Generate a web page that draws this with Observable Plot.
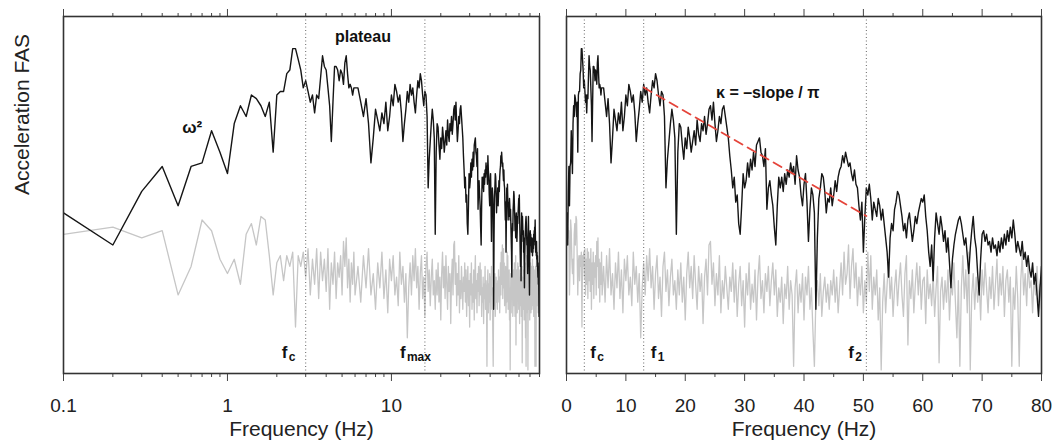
<!DOCTYPE html>
<html>
<head>
<meta charset="utf-8">
<script src="https://cdn.jsdelivr.net/npm/d3@7"></script>
<script src="https://cdn.jsdelivr.net/npm/@observablehq/plot@0.6"></script>
<style>
  html, body { margin: 0; padding: 0; background: #fff; }
  #wrap { position: absolute; left: 0; top: 0; width: 1056px; height: 441px; display: flex; }
</style>
</head>
<body>
<div id="wrap"></div>
<script>
// ---- Frequency sampling grid (Hz) ----
const lowFreq = d3.range(1, 61).map(i => +(i / 10).toFixed(1));        // 0.1 .. 6.0
const highFreq = d3.range(1, 297).map(i => 6 + i * 0.25);              // 6.25 .. 80

// ---- Signal FAS (relative log amplitude, 0 = bottom of frame, 100 = top) ----
const signalLow = [45,36,51,58,47,58,59,68,62,56, 70,75,72,78,77,75,72,76,62,78,
  79,79,84,85,91,91,88,85,80,82, 79,76,78,73,78,77,83,89,86,85,
  80,75,65,76,86,86,85,82,85,84, 81,87,89,84,80,81,80,78,80,80];
const signalHigh = [
  80,76,72,77, 70,59,66,74, 71,68,73,70, 76,68,72,78, 75,81,79,76, 78,73,65,70,
  74,79,76,81, 78,80,76,73, 78,82,80,84, 82,78,75,79, 78,72,52,60, 65,70,74,71,
  66,39,62,70, 69,64,60,66, 63,69,66,62, 65,68,64,71, 67,65,70,68, 72,67,70,74,
  75,71,76,70, 65,68,72,70, 74,75,72,69, 66,61,57,52, 55,48,50,42, 39,47,56,52,
  54,59,55,60, 57,62,58,64, 65,66,62,61, 58,63,46,52, 54,50,47,41, 36,47,55,52,
  55,51,56,53, 57,55,59,56, 58,53,61,57, 55,50,47,53, 56,48,37,46, 52,50,45,18,
  38,49,52,56, 55,51,45,49, 48,52,47,50, 54,51,55,57, 58,61,59,62, 60,58,59,56,
  54,57,53,52, 47,43,48,34, 44,52,50,53, 49,43,48,46, 44,49,47,43, 46,42,38,34,
  27,38,42,40, 46,48,51,50, 47,44,40,42, 38,43,45,41, 37,40,44,42, 45,47,49,48,
  50,44,40,34, 30,36,26,38, 45,42,39,44, 41,37,40,34, 38,31,24,32, 36,39,41,43,
  44,42,39,36, 38,33,28,35, 40,44,38,35, 28,22,32,39, 40,37,39,36, 37,34,38,35,
  36,33,37,34, 38,35,39,36, 40,37,41,38, 43,39,34,37, 35,33,37,32, 34,30,33,29,
  27,31,25,28, 22,16,24,30];

// ---- Noise FAS ----
const noiseLow = [39,41,38,40,22,30,43,40,32,28, 32,25,39,42,36,44,43,33,22,31,
  33,26,33,30,34,13,33,30,34,27, 35,22,32,25,35,21,34,26,32,23,
  35,18,31,25,34,21,31,27,33,22, 37,30,38,24,32,20,31,25,34,22];
const noiseHigh = [
  30,20,33,24, 35,22,28,18, 31,24,34,21, 29,17,32,26, 33,22,27,19, 34,25,30,20,
  28,10,24,31, 22,33,26,35, 24,30,18,28, 33,21,27,16, 30,34,23,29, 19,27,32,22,
  26,18,29,22, 31,20,27,15, 28,34,24,30, 21,33,25,18, 30,23,28,14, 27,32,22,36,
  37,25,31,19, 28,22,33,17, 26,21,30,24, 18,27,23,31, 20,29,16,25, 30,19,26,13,
  28,22,31,18, 25,20,29,15, 27,33,21,26, 17,28,23,30, 19,26,31,22, 29,16,24,20,
  27,14,25,21, 30,18,26,22, 2,24,29,17, 25,20,28,15, 27,22,30,18, 24,12,2,21,
  26,19,28,16, 23,27,20,25, 18,26,22,29, 20,27,17,24, 31,22,34,25, 28,36,21,30,
  35,24,31,19, 27,22,30,17, 26,20,34,23, 33,18,27,22, 29,15,24,1, 20,28,17,25,
  32,21,27,16, 24,29,19,26, 31,22,16,28, 33,8,26,21, 29,17,25,31, 22,30,18,26,
  27,14,29,21, 25,19,28,16, 24,30,3,23, 27,18,26,20, 29,15,25,22, 31,20,10,26,
  2,24,33,21, 29,17,34,1, 22,28,18,27, 20,26,15,29, 22,31,24,17, 27,21,30,18,
  25,32,19,28, 22,30,16,26, 29,20,27,2, 24,18,30,21, 2,26,33,22, 28,19,31,24,
  26,17,27,22, 30,20,25,18];

// ---- Annotations ----
const leftMarkers = [3, 16];          // f_c, f_max
const rightMarkers = [3, 13, 50.5];   // f_c, f1, f2
const kappaFit = [{f: 13, v: 80.1}, {f: 50.5, v: 44.1}];
const leftMajor = [0.1, 1, 10];
const leftMinor = [0.2,0.3,0.4,0.5,0.6,0.7,0.8,0.9,2,3,4,5,6,7,8,9,20,30,40,50,60,70,80];
const rightMajor = [0,10,20,30,40,50,60,70,80];
const rightMinor = [5,15,25,35,45,55,65,75];

const signal = [...lowFreq.map((f, i) => ({f, v: signalLow[i]})), ...highFreq.map((f, i) => ({f, v: signalHigh[i]}))];
const noise = [...lowFreq.map((f, i) => ({f, v: noiseLow[i]})), ...highFreq.map((f, i) => ({f, v: noiseHigh[i]}))];

const FONT = "'Liberation Sans', Arial, Helvetica, sans-serif";
const TICK = "#444";

function subLabel(x, sub, dx) {
  return [
    Plot.text([x], {x: d => d, y: () => 5.9, text: () => "f", dx, textAnchor: "start", fontWeight: "bold", fontSize: 17, fill: "#111"}),
    Plot.text([x], {x: d => d, y: () => 5.9, text: () => sub, dx: dx + 7, dy: 5, textAnchor: "start", fontWeight: "bold", fontSize: 12, fill: "#111"})
  ];
}

function axes(major, minor, fmt) {
  return [
    Plot.axisX({anchor: "bottom", ticks: major, tickSize: 8, tickPadding: 17, tickFormat: fmt, stroke: TICK, fontSize: 19, fill: "#222", label: null}),
    Plot.axisX({anchor: "bottom", ticks: minor, tickSize: 4, tickFormat: () => "", stroke: TICK, label: null}),
    Plot.axisX({anchor: "top", ticks: major, tickSize: 8, tickFormat: () => "", stroke: TICK, label: null}),
    Plot.axisX({anchor: "top", ticks: minor, tickSize: 4, tickFormat: () => "", stroke: TICK, label: null}),
    Plot.text(["Frequency (Hz)"], {frameAnchor: "bottom", dy: 48, lineAnchor: "top", fontSize: 21, fill: "#222"})
  ];
}

const left = Plot.plot({
  width: 545, height: 441,
  marginLeft: 63, marginRight: 6, marginTop: 16, marginBottom: 68,
  style: {fontFamily: FONT, fontSize: "19px", background: "#fff", overflow: "visible"},
  x: {type: "log", domain: [0.1, 80], axis: null},
  y: {domain: [0, 100], axis: null},
  marks: [
    Plot.line(noise, {x: "f", y: "v", stroke: "#c6c6c6", strokeWidth: 1.3, clip: true}),
    Plot.line(signal, {x: "f", y: "v", stroke: "#151515", strokeWidth: 1.4, clip: true}),
    Plot.ruleX(leftMarkers, {stroke: "#666", strokeWidth: 1, strokeDasharray: "1,2.5"}),
    Plot.text(["plateau"], {x: () => 6.7, y: () => 94.4, fontWeight: "bold", fontSize: 16, fill: "#111"}),
    Plot.text(["ω²"], {x: () => 0.61, y: () => 69, fontWeight: "bold", fontSize: 17, fill: "#111"}),
    ...subLabel(leftMarkers[0], "c", -24),
    ...subLabel(leftMarkers[1], "max", -25),
    ...axes(leftMajor, leftMinor, d => d === 0.1 ? "0.1" : String(d)),
    Plot.text(["Acceleration FAS"], {frameAnchor: "left", rotate: -90, dx: -41, fontSize: 21, fill: "#222"}),
    Plot.frame({stroke: "#333", strokeWidth: 1.6})
  ]
});

const right = Plot.plot({
  width: 511, height: 441,
  marginLeft: 21, marginRight: 15, marginTop: 16, marginBottom: 68,
  style: {fontFamily: FONT, fontSize: "19px", background: "#fff", overflow: "visible"},
  x: {type: "linear", domain: [0, 80], axis: null},
  y: {domain: [0, 100], axis: null},
  marks: [
    Plot.line(noise, {x: "f", y: "v", stroke: "#c6c6c6", strokeWidth: 1.3, clip: true}),
    Plot.line(signal, {x: "f", y: "v", stroke: "#151515", strokeWidth: 1.4, clip: true}),
    Plot.ruleX(rightMarkers, {stroke: "#666", strokeWidth: 1, strokeDasharray: "1,2.5"}),
    Plot.line(kappaFit, {x: "f", y: "v", stroke: "#e5443a", strokeWidth: 1.8, strokeDasharray: "9,6"}),
    Plot.text(["κ = –slope / π"], {x: () => 33.9, y: () => 78.7, fontWeight: "bold", fontSize: 16, fill: "#111"}),
    ...subLabel(rightMarkers[0], "c", 6),
    ...subLabel(rightMarkers[1], "1", 7),
    ...subLabel(rightMarkers[2], "2", -18),
    ...axes(rightMajor, rightMinor, d => String(d)),
    Plot.frame({stroke: "#333", strokeWidth: 1.6})
  ]
});

const wrap = document.getElementById("wrap");
wrap.appendChild(left);
wrap.appendChild(right);
</script>
</body>
</html>
